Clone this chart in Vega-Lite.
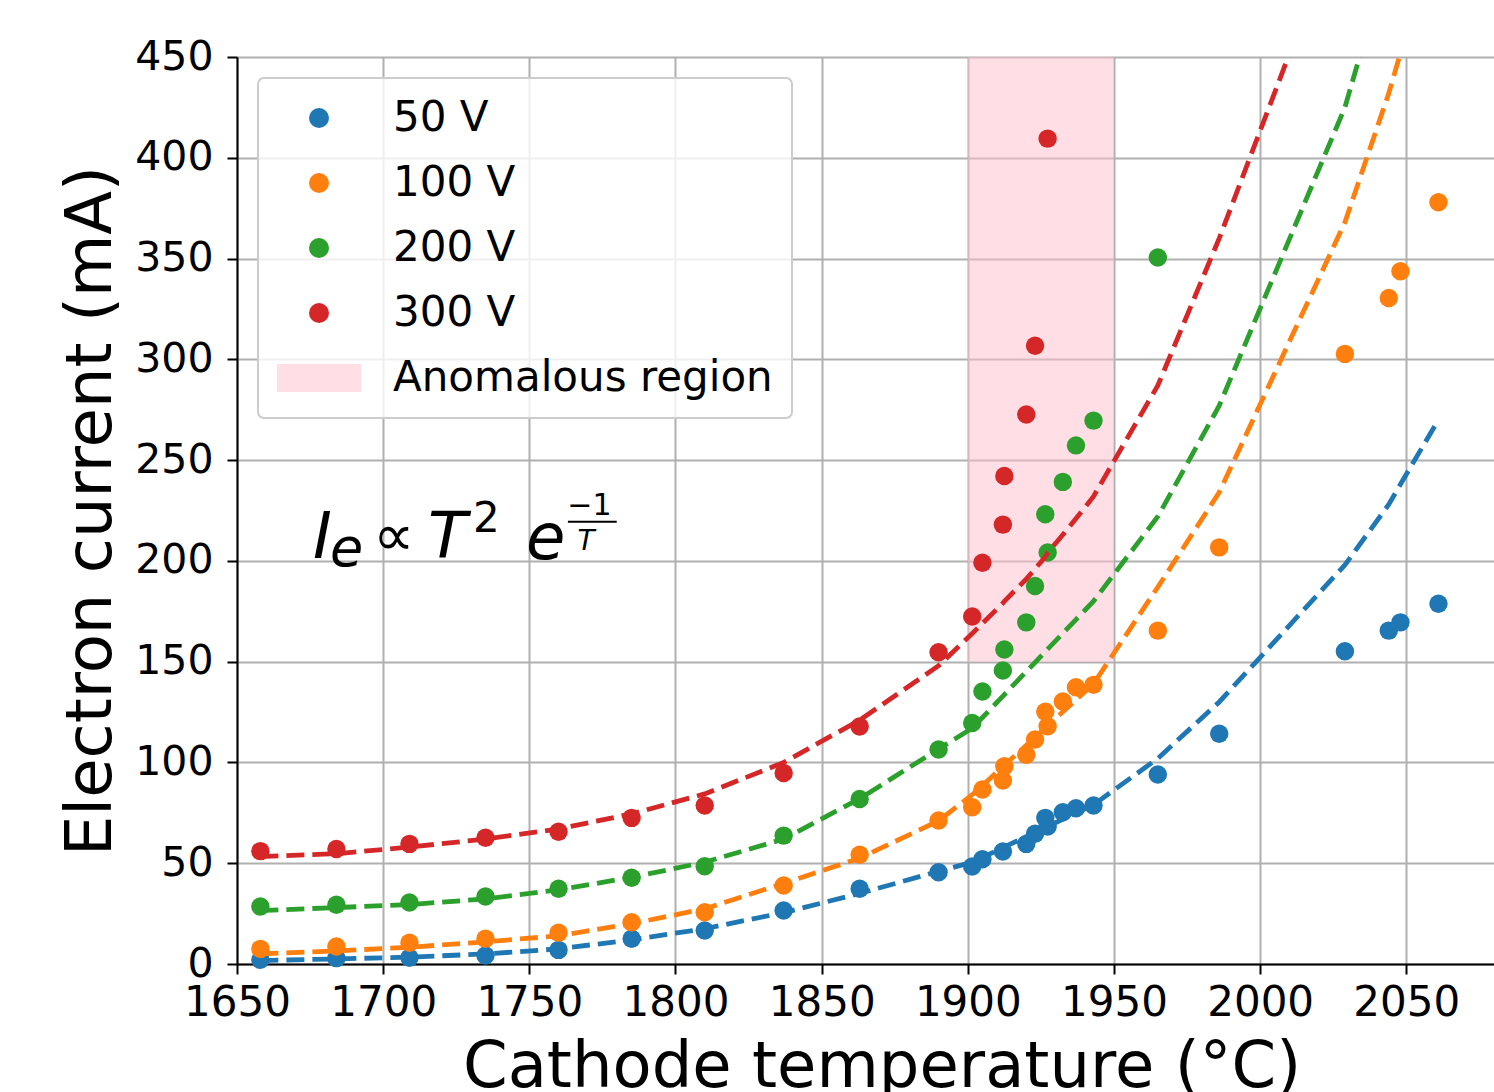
{
  "$schema": "https://vega.github.io/schema/vega-lite/v6.json",
  "width": 1257,
  "height": 907,
  "autosize": {"type": "none"},
  "padding": {"left": 237, "top": 57, "right": 0, "bottom": 128},
  "background": "white",
  "config": {
    "font": "DejaVu Sans",
    "view": {"stroke": null},
    "axis": {
      "labelFont": "DejaVu Sans", "titleFont": "DejaVu Sans",
      "labelColor": "black", "titleColor": "black",
      "domainColor": "black", "domainWidth": 2,
      "tickColor": "black", "tickWidth": 2, "tickSize": 10,
      "gridColor": "#b0b0b0", "gridWidth": 2, "gridOpacity": 1,
      "labelFontSize": 42, "titleFontSize": 64, "titleFontWeight": "normal"
    },
    "legend": {
      "orient": "top-left", "offset": 21, "padding": 19,
      "fillColor": "rgba(255,255,255,0.8)", "strokeColor": "#cccccc", "strokeWidth": 2, "cornerRadius": 6,
      "labelFont": "DejaVu Sans", "labelFontSize": 42, "labelColor": "black", "labelLimit": 600,
      "symbolSize": 400, "symbolOffset": 21, "labelOffset": 53, "rowPadding": 23, "symbolStrokeWidth": 0
    }
  },
  "datasets": {
    "points": [
      {"series": "50 V", "T": 1658, "I": 2.1}, {"series": "50 V", "T": 1684, "I": 2.9}, {"series": "50 V", "T": 1709, "I": 3.1},
      {"series": "50 V", "T": 1735, "I": 4.2}, {"series": "50 V", "T": 1760, "I": 7.0}, {"series": "50 V", "T": 1785, "I": 12.5},
      {"series": "50 V", "T": 1810, "I": 16.6}, {"series": "50 V", "T": 1837, "I": 26.5}, {"series": "50 V", "T": 1863, "I": 37.3},
      {"series": "50 V", "T": 1890, "I": 45.5}, {"series": "50 V", "T": 1901.5, "I": 48.4}, {"series": "50 V", "T": 1905, "I": 52},
      {"series": "50 V", "T": 1912, "I": 55.8}, {"series": "50 V", "T": 1920, "I": 59.6}, {"series": "50 V", "T": 1923, "I": 64.6},
      {"series": "50 V", "T": 1927.3, "I": 68.2}, {"series": "50 V", "T": 1926.5, "I": 72.5}, {"series": "50 V", "T": 1932.5, "I": 75.3},
      {"series": "50 V", "T": 1937, "I": 77.3}, {"series": "50 V", "T": 1943, "I": 78.6}, {"series": "50 V", "T": 1965, "I": 94},
      {"series": "50 V", "T": 1986, "I": 114.2}, {"series": "50 V", "T": 2029, "I": 155.2}, {"series": "50 V", "T": 2044, "I": 165.4},
      {"series": "50 V", "T": 2048, "I": 169.5}, {"series": "50 V", "T": 2061, "I": 178.7},
      {"series": "100 V", "T": 1658, "I": 7.5}, {"series": "100 V", "T": 1684, "I": 8.7}, {"series": "100 V", "T": 1709, "I": 10.5},
      {"series": "100 V", "T": 1735, "I": 12.5}, {"series": "100 V", "T": 1760, "I": 15.5}, {"series": "100 V", "T": 1785, "I": 20.7},
      {"series": "100 V", "T": 1810, "I": 25.7}, {"series": "100 V", "T": 1837, "I": 38.9}, {"series": "100 V", "T": 1863, "I": 54.2},
      {"series": "100 V", "T": 1890, "I": 71.2}, {"series": "100 V", "T": 1901.5, "I": 77.8}, {"series": "100 V", "T": 1905, "I": 86.6},
      {"series": "100 V", "T": 1912, "I": 91}, {"series": "100 V", "T": 1912.5, "I": 98.1}, {"series": "100 V", "T": 1920, "I": 103.8},
      {"series": "100 V", "T": 1923, "I": 111.4}, {"series": "100 V", "T": 1927.3, "I": 118}, {"series": "100 V", "T": 1926.5, "I": 125.2},
      {"series": "100 V", "T": 1932.5, "I": 130.2}, {"series": "100 V", "T": 1937, "I": 137.3}, {"series": "100 V", "T": 1943, "I": 138.5},
      {"series": "100 V", "T": 1965, "I": 165.4}, {"series": "100 V", "T": 1986, "I": 206.7}, {"series": "100 V", "T": 2029, "I": 302.7},
      {"series": "100 V", "T": 2044, "I": 330.4}, {"series": "100 V", "T": 2048, "I": 343.7}, {"series": "100 V", "T": 2061, "I": 377.9},
      {"series": "200 V", "T": 1658, "I": 28.5}, {"series": "200 V", "T": 1684, "I": 29.4}, {"series": "200 V", "T": 1709, "I": 30.5},
      {"series": "200 V", "T": 1735, "I": 33.5}, {"series": "200 V", "T": 1760, "I": 37.3}, {"series": "200 V", "T": 1785, "I": 42.8},
      {"series": "200 V", "T": 1810, "I": 48.5}, {"series": "200 V", "T": 1837, "I": 63.7}, {"series": "200 V", "T": 1863, "I": 81.9},
      {"series": "200 V", "T": 1890, "I": 106.4}, {"series": "200 V", "T": 1901.5, "I": 119.6}, {"series": "200 V", "T": 1905, "I": 135.2},
      {"series": "200 V", "T": 1912, "I": 145.6}, {"series": "200 V", "T": 1912.5, "I": 156}, {"series": "200 V", "T": 1920, "I": 169.5},
      {"series": "200 V", "T": 1923, "I": 187.5}, {"series": "200 V", "T": 1927.3, "I": 204.2}, {"series": "200 V", "T": 1926.5, "I": 223.1},
      {"series": "200 V", "T": 1932.5, "I": 239.2}, {"series": "200 V", "T": 1937, "I": 257.3}, {"series": "200 V", "T": 1943, "I": 269.6},
      {"series": "200 V", "T": 1965, "I": 350.5},
      {"series": "300 V", "T": 1658, "I": 56.0}, {"series": "300 V", "T": 1684, "I": 57.1}, {"series": "300 V", "T": 1709, "I": 59.6},
      {"series": "300 V", "T": 1735, "I": 62.6}, {"series": "300 V", "T": 1760, "I": 65.6}, {"series": "300 V", "T": 1785, "I": 72.5},
      {"series": "300 V", "T": 1810, "I": 78.6}, {"series": "300 V", "T": 1837, "I": 94.8}, {"series": "300 V", "T": 1863, "I": 117.8},
      {"series": "300 V", "T": 1890, "I": 154.7}, {"series": "300 V", "T": 1901.5, "I": 172.4}, {"series": "300 V", "T": 1905, "I": 199.1},
      {"series": "300 V", "T": 1912, "I": 218}, {"series": "300 V", "T": 1912.5, "I": 242.1}, {"series": "300 V", "T": 1920, "I": 272.6},
      {"series": "300 V", "T": 1923, "I": 306.7}, {"series": "300 V", "T": 1927.3, "I": 409.5}
    ],
    "fits": [
      {"series": "50 V", "T": 1658, "I": 1.7}, {"series": "50 V", "T": 1684, "I": 2.5}, {"series": "50 V", "T": 1709, "I": 3.4},
      {"series": "50 V", "T": 1735, "I": 5.0}, {"series": "50 V", "T": 1760, "I": 7.5}, {"series": "50 V", "T": 1785, "I": 12.0},
      {"series": "50 V", "T": 1810, "I": 17.5}, {"series": "50 V", "T": 1837, "I": 25.5}, {"series": "50 V", "T": 1863, "I": 35},
      {"series": "50 V", "T": 1890, "I": 46}, {"series": "50 V", "T": 1901.5, "I": 50.5}, {"series": "50 V", "T": 1905, "I": 52.9},
      {"series": "50 V", "T": 1912, "I": 57.7}, {"series": "50 V", "T": 1912.5, "I": 58.1}, {"series": "50 V", "T": 1920, "I": 63.2},
      {"series": "50 V", "T": 1923, "I": 65.3}, {"series": "50 V", "T": 1926.5, "I": 67.7}, {"series": "50 V", "T": 1927.3, "I": 68.2},
      {"series": "50 V", "T": 1932.5, "I": 71.8}, {"series": "50 V", "T": 1937, "I": 74.9}, {"series": "50 V", "T": 1943, "I": 79},
      {"series": "50 V", "T": 1965, "I": 102}, {"series": "50 V", "T": 1986, "I": 130}, {"series": "50 V", "T": 2029, "I": 198},
      {"series": "50 V", "T": 2044, "I": 228}, {"series": "50 V", "T": 2048, "I": 238}, {"series": "50 V", "T": 2061, "I": 270},
      {"series": "100 V", "T": 1658, "I": 5}, {"series": "100 V", "T": 1684, "I": 6.5}, {"series": "100 V", "T": 1709, "I": 8.3},
      {"series": "100 V", "T": 1735, "I": 11}, {"series": "100 V", "T": 1760, "I": 14}, {"series": "100 V", "T": 1785, "I": 20},
      {"series": "100 V", "T": 1810, "I": 27.4}, {"series": "100 V", "T": 1837, "I": 40}, {"series": "100 V", "T": 1863, "I": 52.5},
      {"series": "100 V", "T": 1890, "I": 71}, {"series": "100 V", "T": 1901.5, "I": 84}, {"series": "100 V", "T": 1905, "I": 88.6},
      {"series": "100 V", "T": 1912, "I": 97.9}, {"series": "100 V", "T": 1912.5, "I": 98.6}, {"series": "100 V", "T": 1920, "I": 108.5},
      {"series": "100 V", "T": 1923, "I": 112.5}, {"series": "100 V", "T": 1926.5, "I": 117.1}, {"series": "100 V", "T": 1927.3, "I": 118.2},
      {"series": "100 V", "T": 1932.5, "I": 125.1}, {"series": "100 V", "T": 1937, "I": 131}, {"series": "100 V", "T": 1943, "I": 139},
      {"series": "100 V", "T": 1965, "I": 187}, {"series": "100 V", "T": 1986, "I": 234}, {"series": "100 V", "T": 2029, "I": 368},
      {"series": "100 V", "T": 2044, "I": 432}, {"series": "100 V", "T": 2048, "I": 452}, {"series": "100 V", "T": 2061, "I": 520},
      {"series": "200 V", "T": 1658, "I": 26.5}, {"series": "200 V", "T": 1684, "I": 28}, {"series": "200 V", "T": 1709, "I": 29.5},
      {"series": "200 V", "T": 1735, "I": 32.3}, {"series": "200 V", "T": 1760, "I": 36.8}, {"series": "200 V", "T": 1785, "I": 43},
      {"series": "200 V", "T": 1810, "I": 50.5}, {"series": "200 V", "T": 1837, "I": 62}, {"series": "200 V", "T": 1863, "I": 82},
      {"series": "200 V", "T": 1890, "I": 106.7}, {"series": "200 V", "T": 1901.5, "I": 117}, {"series": "200 V", "T": 1905, "I": 122.3},
      {"series": "200 V", "T": 1912, "I": 132.9}, {"series": "200 V", "T": 1912.5, "I": 133.7}, {"series": "200 V", "T": 1920, "I": 145.1},
      {"series": "200 V", "T": 1923, "I": 149.6}, {"series": "200 V", "T": 1926.5, "I": 155}, {"series": "200 V", "T": 1927.3, "I": 156.2},
      {"series": "200 V", "T": 1932.5, "I": 164.1}, {"series": "200 V", "T": 1937, "I": 170.9}, {"series": "200 V", "T": 1943, "I": 180},
      {"series": "200 V", "T": 1965, "I": 222}, {"series": "200 V", "T": 1986, "I": 277}, {"series": "200 V", "T": 2029, "I": 425},
      {"series": "200 V", "T": 2044, "I": 500}, {"series": "200 V", "T": 2048, "I": 520}, {"series": "200 V", "T": 2061, "I": 590},
      {"series": "300 V", "T": 1658, "I": 53.3}, {"series": "300 V", "T": 1684, "I": 54.7}, {"series": "300 V", "T": 1709, "I": 58},
      {"series": "300 V", "T": 1735, "I": 62}, {"series": "300 V", "T": 1760, "I": 67}, {"series": "300 V", "T": 1785, "I": 74.5},
      {"series": "300 V", "T": 1810, "I": 84.4}, {"series": "300 V", "T": 1837, "I": 100}, {"series": "300 V", "T": 1863, "I": 121},
      {"series": "300 V", "T": 1890, "I": 148}, {"series": "300 V", "T": 1901.5, "I": 164}, {"series": "300 V", "T": 1905, "I": 169},
      {"series": "300 V", "T": 1912, "I": 179}, {"series": "300 V", "T": 1912.5, "I": 180}, {"series": "300 V", "T": 1920, "I": 191},
      {"series": "300 V", "T": 1923, "I": 196}, {"series": "300 V", "T": 1926.5, "I": 202}, {"series": "300 V", "T": 1927.3, "I": 204},
      {"series": "300 V", "T": 1932.5, "I": 213}, {"series": "300 V", "T": 1937, "I": 221}, {"series": "300 V", "T": 1943, "I": 232},
      {"series": "300 V", "T": 1965, "I": 287}, {"series": "300 V", "T": 1986, "I": 360}, {"series": "300 V", "T": 2029, "I": 524},
      {"series": "300 V", "T": 2044, "I": 600}, {"series": "300 V", "T": 2048, "I": 620}, {"series": "300 V", "T": 2061, "I": 690}
    ],
    "band": [{"label": "Anomalous region", "T": 1900, "T2": 1950, "I": 150, "I2": 450}],
    "formula": [
      {"role": "main", "text": "I", "T": 1676, "I": 201.4},
      {"role": "sub", "text": "e", "T": 1681.8, "I": 197.5},
      {"role": "rel", "text": "∝", "T": 1696.5, "I": 203},
      {"role": "main", "text": "T", "T": 1715.3, "I": 201.4},
      {"role": "sup", "text": "2", "T": 1730.7, "I": 214.5},
      {"role": "main", "text": "e", "T": 1748.9, "I": 200.9},
      {"role": "num", "text": "−1", "T": 1763, "I": 222.8},
      {"role": "den", "text": "T", "T": 1766.5, "I": 205.4},
      {"role": "bar", "text": "", "T": 1763.2, "T2": 1779.9, "I": 219.4}
    ]
  },
  "layer": [
    {
      "data": {"name": "band"},
      "mark": {"type": "rect", "color": "#ffc0cb", "opacity": 0.5},
      "encoding": {
        "x": {"field": "T", "type": "quantitative", "scale": {"domain": [1650, 2080], "nice": false, "zero": false},
              "axis": {"values": [1650, 1700, 1750, 1800, 1850, 1900, 1950, 2000, 2050], "format": "d", "grid": true, "labelBaseline": "alphabetic", "labelPadding": 41,
                       "title": "Cathode temperature (°C)", "titleX": 644.6, "titleY": 122, "titleBaseline": "alphabetic", "titleAlign": "center", "labelFlush": false, "labelOverlap": false}},
        "x2": {"field": "T2"},
        "y": {"field": "I", "type": "quantitative", "scale": {"domain": [0, 450], "nice": false},
              "axis": {"values": [0, 50, 100, 150, 200, 250, 300, 350, 400, 450], "format": "d", "grid": true, "labelPadding": 14, "labelFontSize": 41,
                       "title": "Electron current (mA)", "titleX": -127, "titleY": 453.5, "titleAngle": -90, "titleBaseline": "alphabetic", "titleAlign": "center", "labelFlush": false, "labelOverlap": false}},
        "y2": {"field": "I2"}
      }
    },
    {
      "data": {"name": "points"},
      "mark": {"type": "point", "filled": true, "opacity": 1, "size": 340, "strokeWidth": 0},
      "encoding": {
        "x": {"field": "T", "type": "quantitative"},
        "y": {"field": "I", "type": "quantitative"},
        "color": {"field": "series", "type": "nominal",
                  "scale": {"domain": ["50 V", "100 V", "200 V", "300 V", "Anomalous region"], "range": ["#1f77b4", "#ff7f0e", "#2ca02c", "#d62728", "#ffdfe5"]},
                  "legend": {"title": null}},
        "shape": {"field": "series", "type": "nominal",
                  "scale": {"domain": ["50 V", "100 V", "200 V", "300 V", "Anomalous region"], "range": ["circle", "circle", "circle", "circle", "M-4.2,-1.4H4.2V1.4H-4.2Z"]},
                  "legend": {"title": null}}
      }
    },
    {
      "data": {"name": "fits"},
      "mark": {"type": "line", "strokeWidth": 4.8, "strokeDash": [18, 8], "clip": true},
      "encoding": {
        "x": {"field": "T", "type": "quantitative"},
        "y": {"field": "I", "type": "quantitative"},
        "stroke": {"field": "series", "type": "nominal",
                   "scale": {"domain": ["50 V", "100 V", "200 V", "300 V"], "range": ["#1f77b4", "#ff7f0e", "#2ca02c", "#d62728"]},
                   "legend": null},
        "detail": {"field": "series"}
      }
    },
    {
      "mark": {"type": "rule", "color": "black", "strokeWidth": 2},
      "encoding": {"y": {"datum": 450}}
    },
    {
      "data": {"name": "formula"},
      "transform": [{"filter": "datum.role === 'main'"}],
      "mark": {"type": "text", "font": "DejaVu Sans", "fontStyle": "italic", "fontSize": 64, "align": "left", "baseline": "alphabetic", "color": "black"},
      "encoding": {"x": {"field": "T", "type": "quantitative"}, "y": {"field": "I", "type": "quantitative"}, "text": {"field": "text"}}
    },
    {
      "data": {"name": "formula"},
      "transform": [{"filter": "datum.role === 'sub'"}],
      "mark": {"type": "text", "font": "DejaVu Sans", "fontStyle": "italic", "fontSize": 54, "align": "left", "baseline": "alphabetic", "color": "black"},
      "encoding": {"x": {"field": "T", "type": "quantitative"}, "y": {"field": "I", "type": "quantitative"}, "text": {"field": "text"}}
    },
    {
      "data": {"name": "formula"},
      "transform": [{"filter": "datum.role === 'rel'"}],
      "mark": {"type": "text", "font": "DejaVu Sans", "fontSize": 58, "align": "left", "baseline": "alphabetic", "color": "black"},
      "encoding": {"x": {"field": "T", "type": "quantitative"}, "y": {"field": "I", "type": "quantitative"}, "text": {"field": "text"}}
    },
    {
      "data": {"name": "formula"},
      "transform": [{"filter": "datum.role === 'sup'"}],
      "mark": {"type": "text", "font": "DejaVu Sans", "fontSize": 42, "align": "left", "baseline": "alphabetic", "color": "black"},
      "encoding": {"x": {"field": "T", "type": "quantitative"}, "y": {"field": "I", "type": "quantitative"}, "text": {"field": "text"}}
    },
    {
      "data": {"name": "formula"},
      "transform": [{"filter": "datum.role === 'num'"}],
      "mark": {"type": "text", "font": "DejaVu Sans", "fontSize": 30, "align": "left", "baseline": "alphabetic", "color": "black"},
      "encoding": {"x": {"field": "T", "type": "quantitative"}, "y": {"field": "I", "type": "quantitative"}, "text": {"field": "text"}}
    },
    {
      "data": {"name": "formula"},
      "transform": [{"filter": "datum.role === 'den'"}],
      "mark": {"type": "text", "font": "DejaVu Sans", "fontStyle": "italic", "fontSize": 28, "align": "left", "baseline": "alphabetic", "color": "black"},
      "encoding": {"x": {"field": "T", "type": "quantitative"}, "y": {"field": "I", "type": "quantitative"}, "text": {"field": "text"}}
    },
    {
      "data": {"name": "formula"},
      "transform": [{"filter": "datum.role === 'bar'"}],
      "mark": {"type": "rule", "color": "black", "strokeWidth": 2},
      "encoding": {"x": {"field": "T", "type": "quantitative"}, "x2": {"field": "T2"}, "y": {"field": "I", "type": "quantitative"}}
    }
  ]
}
